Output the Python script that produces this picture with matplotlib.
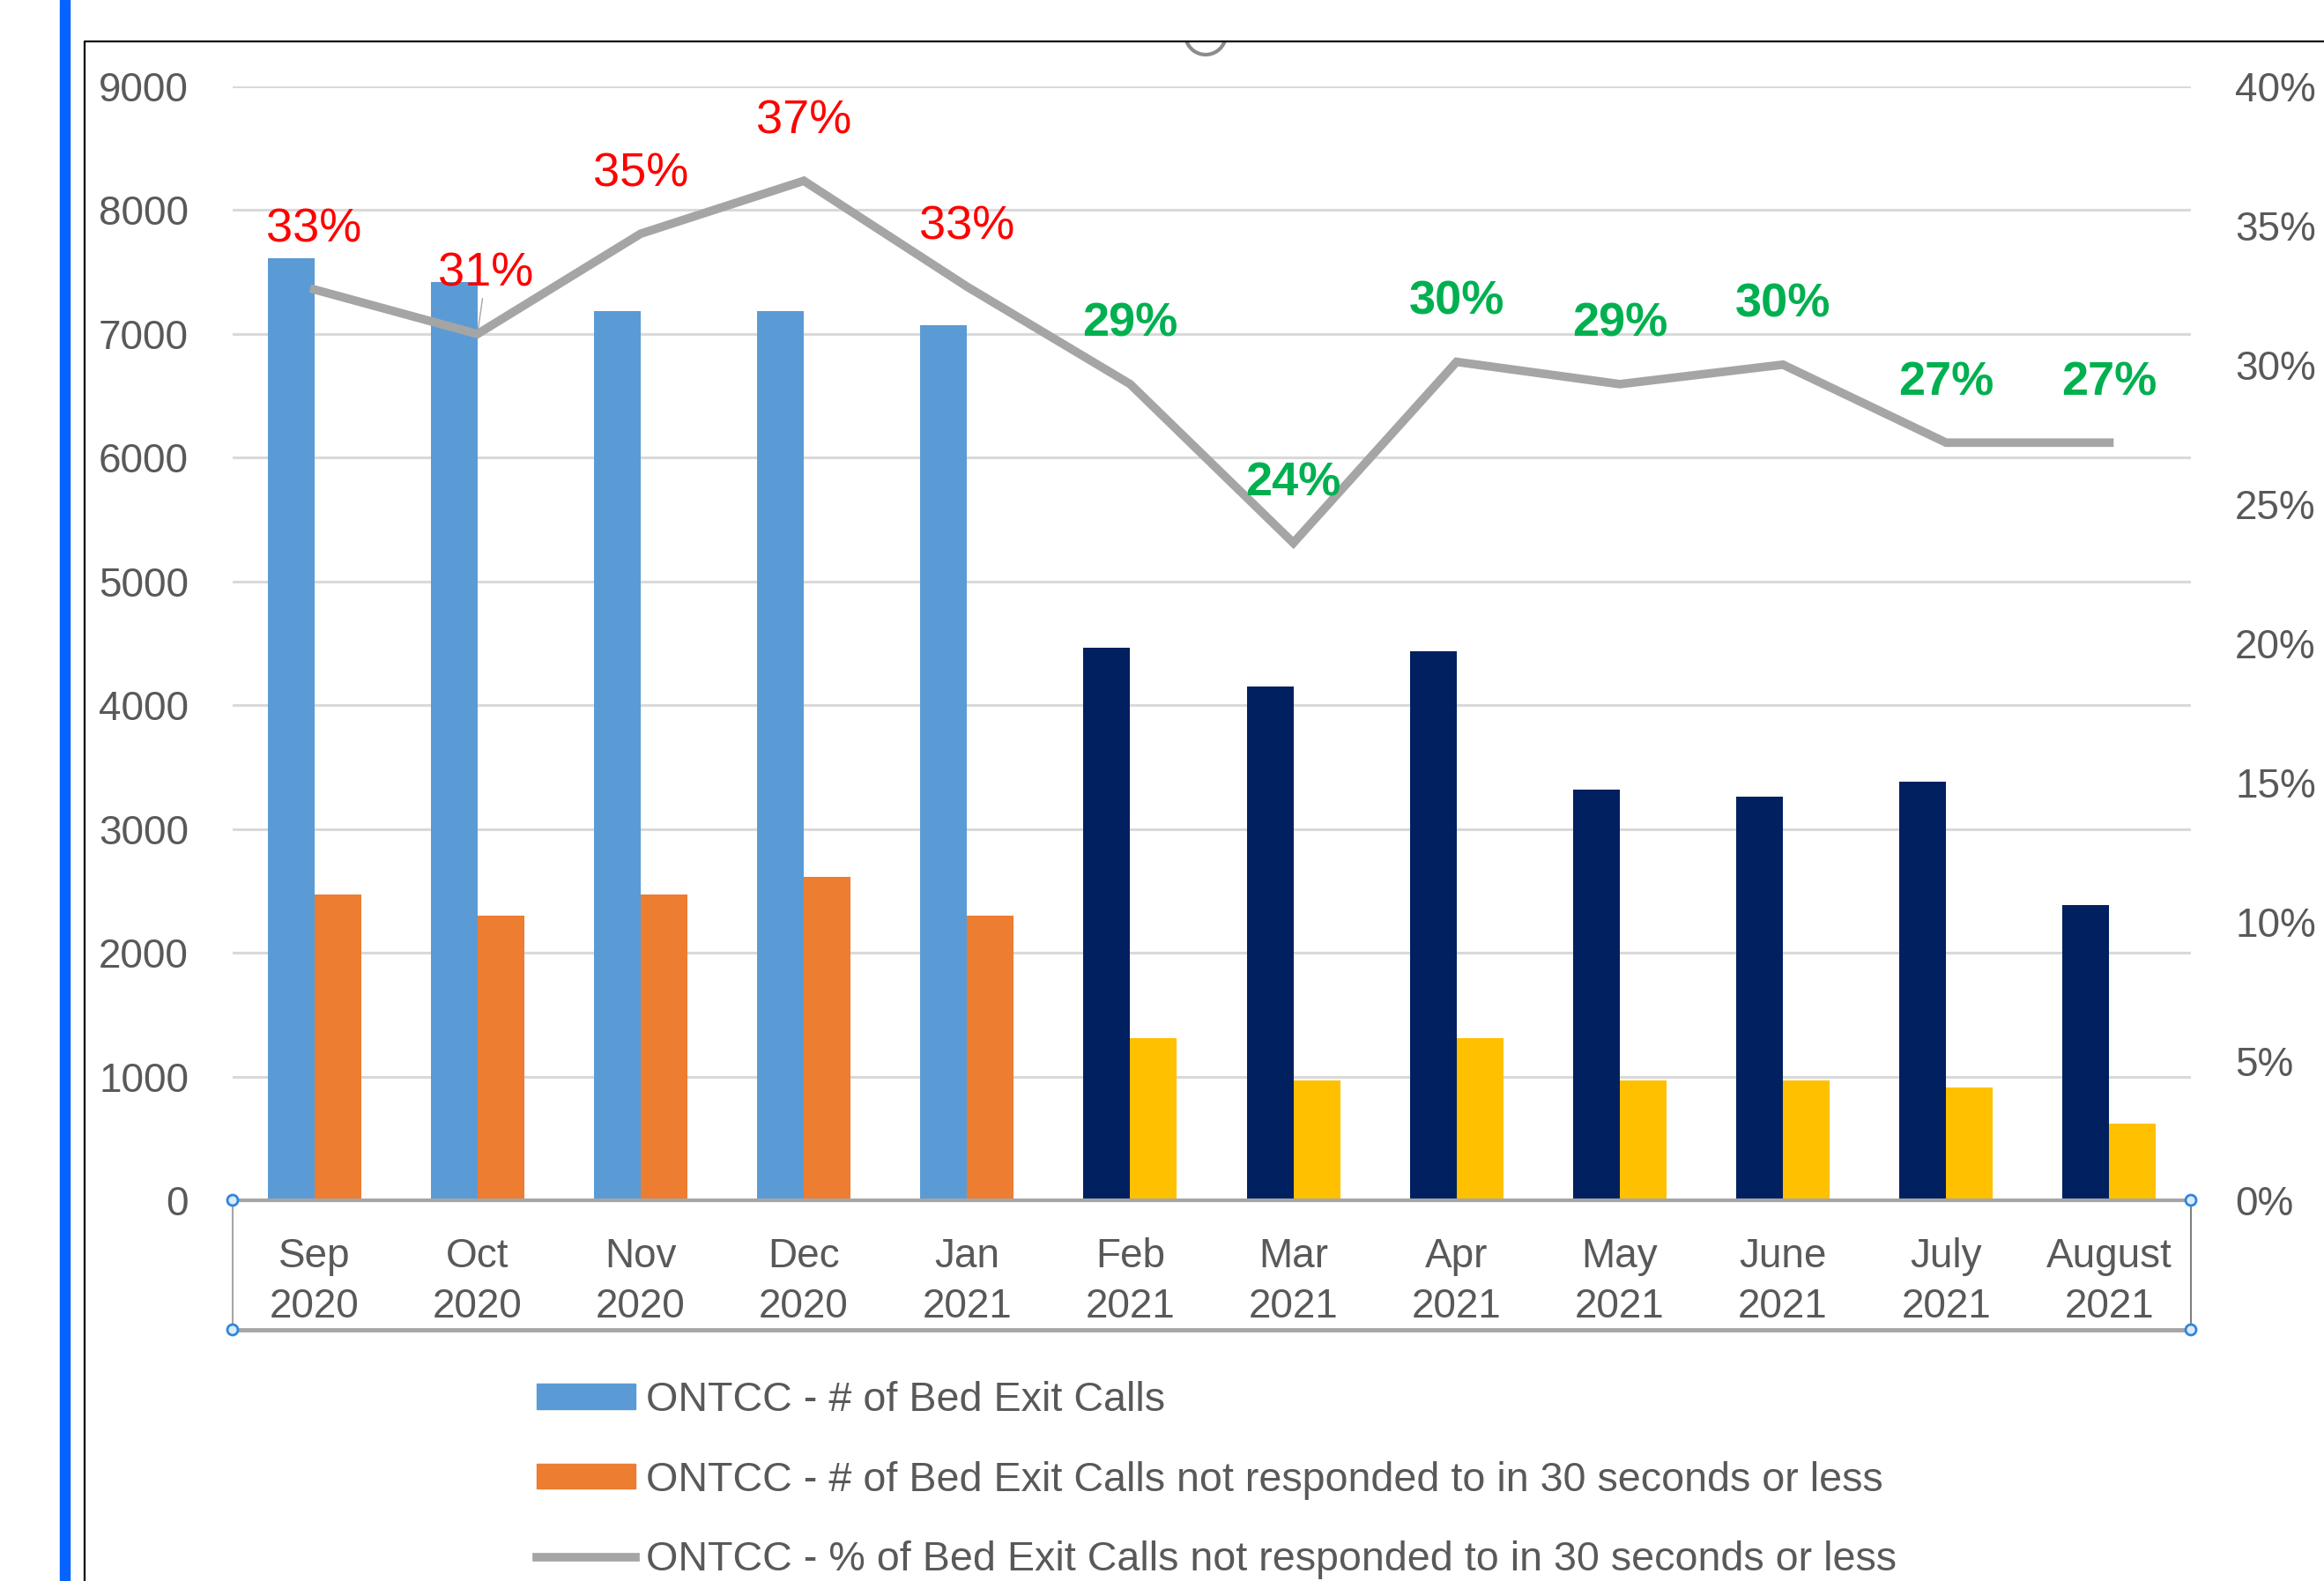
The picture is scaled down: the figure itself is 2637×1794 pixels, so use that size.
import matplotlib.pyplot as plt
from matplotlib.lines import Line2D
from matplotlib.patches import Arc, Circle, Patch, Rectangle
from matplotlib.transforms import IdentityTransform

months = ["Sep", "Oct", "Nov", "Dec", "Jan", "Feb", "Mar", "Apr", "May", "June", "July", "August"]
years = ["2020", "2020", "2020", "2020", "2021", "2021", "2021", "2021", "2021", "2021", "2021", "2021"]
total_calls = [7610, 7420, 7180, 7180, 7070, 4460, 4150, 4435, 3320, 3260, 3380, 2385]
not_responded = [2470, 2300, 2470, 2610, 2300, 1310, 970, 1310, 970, 970, 910, 620]
pct_not_responded = [0.327, 0.311, 0.347, 0.366, 0.328, 0.293, 0.236, 0.301, 0.293, 0.300, 0.272, 0.272]
new_period_start = 5  # Feb 2021 onward drawn in the second colour pair

legend_labels = [
    "ONTCC - # of Bed Exit Calls",
    "ONTCC - # of Bed Exit Calls not responded to in 30 seconds or less",
    "ONTCC - % of Bed Exit Calls not responded to in 30 seconds or less",
]

W, H = 2637, 1794
plt.rcParams["font.family"] = ["Liberation Sans", "DejaVu Sans"]
fig = plt.figure(figsize=(W / 100, H / 100), dpi=100)
ax = fig.add_axes([264 / W, 1 - 1362 / H, (2486 - 264) / W, (1362 - 97.7) / H])
ax2 = ax.twinx()

x = list(range(len(months)))
bw = 0.286
blue_cols = ["#5B9BD5" if i < new_period_start else "#002060" for i in x]
orange_cols = ["#ED7D31" if i < new_period_start else "#FFC000" for i in x]
ax.bar([i - bw / 2 for i in x], total_calls, width=bw, color=blue_cols, zorder=2)
ax.bar([i + bw / 2 for i in x], not_responded, width=bw, color=orange_cols, zorder=2)

ax.set_xlim(-0.5, 11.5)
ax.set_ylim(0, 9000)
ax.set_yticks(range(0, 9001, 1000))
ax.grid(axis="y", color="#D9D9D9", lw=2.2, zorder=0)
ax.set_axisbelow(True)
ax.set_xticks(x)
ax.set_xticklabels([f"{m}\n{y}" for m, y in zip(months, years)], linespacing=1.4)
ax.tick_params(axis="x", length=0, pad=30, labelsize=33, labelcolor="#595959")
ax.tick_params(axis="y", length=0, pad=36, labelsize=33, labelcolor="#595959")
for s in ["top", "left", "right"]:
    ax.spines[s].set_visible(False)
    ax2.spines[s].set_visible(False)
ax.spines["bottom"].set_color("#A6A6A6")
ax.spines["bottom"].set_linewidth(3)
ax2.spines["bottom"].set_visible(False)

ax2.plot(x, pct_not_responded, color="#A5A5A5", lw=7, solid_joinstyle="miter", zorder=3)
ax2.set_ylim(0, 0.4)
ax2.set_yticks([i * 0.05 for i in range(9)])
ax2.set_yticklabels([f"{i * 5}%" for i in range(9)])
ax2.tick_params(axis="y", length=0, pad=36, labelsize=33, labelcolor="#595959")

for i, v in enumerate(pct_not_responded):
    old = i < new_period_start
    dx = 7 if i == 1 else 0
    kw = {}
    if i == 1:
        kw["arrowprops"] = dict(arrowstyle="-", color="#A6A6A6", lw=1, shrinkA=0, shrinkB=4)
    ax2.annotate(f"{v:.0%}", (i, v), xytext=(dx, 49), textcoords="offset points",
                 ha="center", va="center", fontsize=39,
                 color="#FF0000" if old else "#00B050",
                 fontweight="normal" if old else "bold", zorder=4, **kw)

# chart frame, slide edge and selection handles
fig.add_artist(Rectangle((68 / W, 0), 11 / W, 1, color="#0563FF", transform=fig.transFigure))
fig.add_artist(Line2D([96 / W, 96 / W, 1], [0, 1 - 47 / H, 1 - 47 / H], color="black", lw=1.6,
                      transform=fig.transFigure))
fig.add_artist(Arc((1368, H - 47 + 8), 46, 46, theta1=200, theta2=340, color="#8C8C8C", lw=3,
                   transform=IdentityTransform()))
box_top, box_bot = H - 1362, H - 1509
fig.add_artist(Line2D([264, 264], [box_bot, box_top], color="#A6A6A6", lw=1.5, transform=IdentityTransform()))
fig.add_artist(Line2D([2486, 2486], [box_bot, box_top], color="#808080", lw=1.5, transform=IdentityTransform()))
fig.add_artist(Line2D([264, 2486], [box_bot, box_bot], color="#A6A6A6", lw=3.5, transform=IdentityTransform()))
for cx in (264, 2486):
    for cy in (box_top, box_bot):
        fig.add_artist(Circle((cx, cy), 6, facecolor="#DDEBF7", edgecolor="#2E86DE", lw=2,
                              transform=IdentityTransform(), zorder=5))

handles = [
    Patch(color="#5B9BD5"),
    Patch(color="#ED7D31"),
    Line2D([], [], color="#A5A5A5", lw=7),
]
fig.legend(handles, legend_labels, loc="upper left", bbox_to_anchor=(609 / W, 1 - 1567 / H),
           frameon=False, fontsize=33.6, labelcolor="#595959", handlelength=2.4, handleheight=0.55,
           handletextpad=0.25, labelspacing=1.0, borderpad=0, borderaxespad=0)

fig.savefig("out.png", dpi=100, facecolor="white")
